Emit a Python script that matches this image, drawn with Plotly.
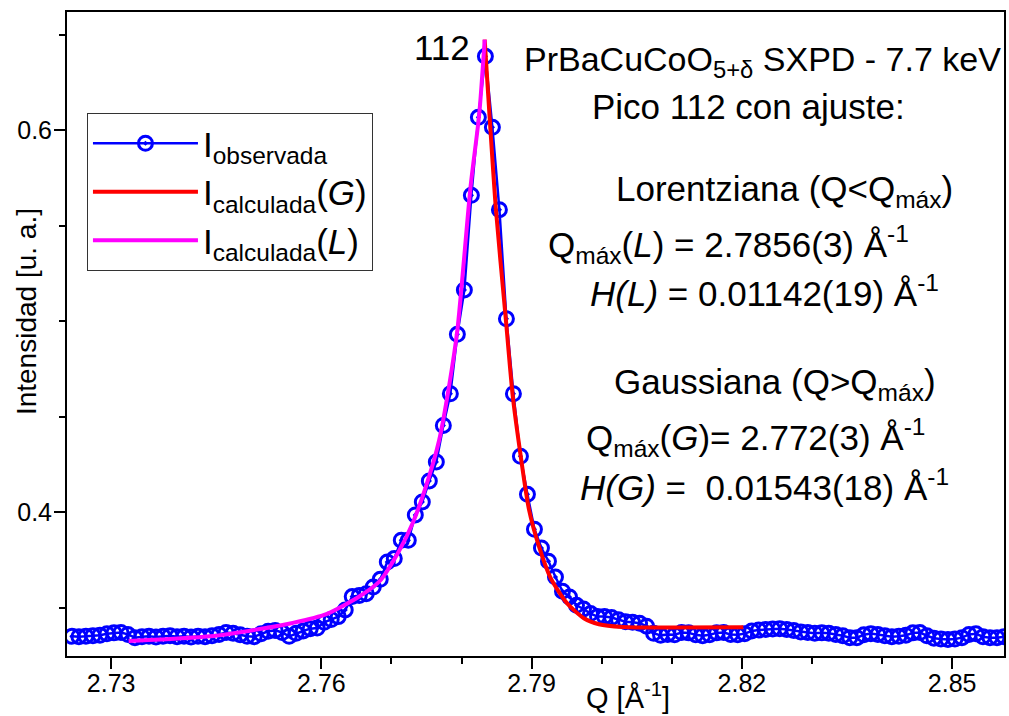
import plotly.graph_objects as go

# ---------------- data ----------------
Q_START = 2.7244
Q_STEP = 0.001
I_obs = [
    0.3352, 0.3350, 0.3352, 0.3355, 0.3358, 0.3365, 0.3370, 0.3372, 0.3362, 0.3345,
    0.3350, 0.3352, 0.3348, 0.3352, 0.3355, 0.3350, 0.3352, 0.3348, 0.3352, 0.3350,
    0.3355, 0.3362, 0.3372, 0.3368, 0.3360, 0.3352, 0.3350, 0.3365, 0.3378, 0.3383,
    0.3372, 0.3352, 0.3368, 0.3380, 0.3392, 0.3395, 0.3425, 0.3440, 0.3455, 0.3490,
    0.3560, 0.3565, 0.3575, 0.3610, 0.3650, 0.3741, 0.3759, 0.3855, 0.3854, 0.3987,
    0.4055, 0.4165, 0.4264, 0.4455, 0.4621, 0.4932, 0.5164, 0.5659, 0.6067, 0.6386,
    0.6015, 0.5584, 0.5013, 0.4621, 0.4294, 0.4095, 0.3912, 0.3814, 0.3745, 0.3662,
    0.3588, 0.3558, 0.3514, 0.3495, 0.3471, 0.3455, 0.3455, 0.3450, 0.3438, 0.3428,
    0.3425, 0.3420, 0.3405, 0.3368, 0.3357, 0.3362, 0.3360, 0.3372, 0.3370, 0.3360,
    0.3355, 0.3360, 0.3370, 0.3372, 0.3362, 0.3360, 0.3366, 0.3380, 0.3385, 0.3388,
    0.3390, 0.3392, 0.3388, 0.3382, 0.3375, 0.3372, 0.3368, 0.3370, 0.3368, 0.3362,
    0.3355, 0.3345, 0.3345, 0.3360, 0.3366, 0.3362, 0.3355, 0.3350, 0.3352, 0.3358,
    0.3370, 0.3372, 0.3355, 0.3342, 0.3338, 0.3335, 0.3338, 0.3345, 0.3362, 0.3365,
    0.3350, 0.3345, 0.3345, 0.3350,
]
Q_obs = [round(Q_START + Q_STEP * i, 4) for i in range(len(I_obs))]

# Lorentzian fit curve (Q < Qmax)
Q_L = [2.7325, 2.7370, 2.7441, 2.7512, 2.7559, 2.7607, 2.7654, 2.7683,
       2.7711, 2.7730, 2.7749, 2.7768, 2.7782, 2.7794, 2.7813, 2.7825, 2.7833]
I_L = [0.3327, 0.3335, 0.3352, 0.3390, 0.3422, 0.3468, 0.3560, 0.3640,
       0.3800, 0.3942, 0.4134, 0.4378, 0.4657, 0.4954, 0.5710, 0.6076, 0.6474]

# Gaussian fit curve (Q > Qmax)
Q_G = [2.7833, 2.7849, 2.7863, 2.7873, 2.7884, 2.7896, 2.7911, 2.7927,
       2.7950, 2.7975, 2.7996, 2.8029, 2.8100, 2.8202]
I_G = [0.6474, 0.5587, 0.5017, 0.4610, 0.4305, 0.4019, 0.3816, 0.3658,
       0.3527, 0.3445, 0.3415, 0.3401, 0.3398, 0.3400]

X_RANGE = [2.7237, 2.8574]
Y_RANGE = [0.3249, 0.6618]

FONT = "Liberation Sans, Arial, sans-serif"

# ---------------- layout helpers (pixel -> paper) ----------------
W, H = 1009, 716
ML, MR, MT, MB = 67, 3, 12, 60
PW, PH = W - ML - MR, H - MT - MB


def px(x):
    return (x - ML) / PW


def py(y):
    return (H - MB - y) / PH


fig = go.Figure()
fig.add_trace(go.Scatter(
    x=Q_obs, y=I_obs, mode="lines+markers", name="I<sub>observada</sub>",
    line=dict(color="#0000FF", width=2.5),
    marker=dict(symbol="circle-open-dot", size=14, color="#0000FF",
                line=dict(width=3, color="#0000FF")),
))
fig.add_trace(go.Scatter(
    x=Q_G, y=I_G, mode="lines", name="I<sub>calculada</sub>(<i>G</i>)",
    line=dict(color="#FF0000", width=4, shape="spline", smoothing=0.7),
))
fig.add_trace(go.Scatter(
    x=Q_L, y=I_L, mode="lines", name="I<sub>calculada</sub>(<i>L</i>)",
    line=dict(color="#FF00FF", width=4, shape="spline", smoothing=0.7),
))

axis_common = dict(
    showgrid=False, zeroline=False, showline=True, linecolor="black",
    linewidth=2, mirror=True, ticks="outside", ticklen=11, tickwidth=2,
    tickcolor="black", tickfont=dict(family=FONT, size=25, color="black"),
)
fig.update_xaxes(range=X_RANGE, tick0=2.73, dtick=0.03, ticklabelstandoff=-7,
                 minor=dict(tick0=2.73, dtick=0.01, ticks="outside", ticklen=6,
                            tickwidth=2, tickcolor="black"),
                 **axis_common)
fig.update_yaxes(range=Y_RANGE, tick0=0, dtick=0.2, ticklabelstandoff=-3,
                 minor=dict(tick0=0, dtick=0.05, ticks="outside", ticklen=6,
                            tickwidth=2, tickcolor="black"),
                 **axis_common)

texts = [
    ("PrBaCuCoO<sub>5+δ</sub> SXPD - 7.7 keV", 1005, 62, "right", 34),
    ("Pico 112 con ajuste:", 750, 106, "center", 35),
    ("Lorentziana (Q&lt;Q<sub>máx</sub>)", 786, 191, "center", 35),
    ("Q<sub>máx</sub>(<i>L</i>) = 2.7856(3) Å<sup>-1</sup>", 730, 244, "center", 35),
    ("<i>H(L)</i> = 0.01142(19) Å<sup>-1</sup>", 766, 291, "center", 35),
    ("Gaussiana (Q&gt;Q<sub>máx</sub>)", 777, 384, "center", 35),
    ("Q<sub>máx</sub>(<i>G</i>)= 2.772(3) Å<sup>-1</sup>", 757, 437, "center", 35),
    ("<i>H(G)</i> =  0.01543(18) Å<sup>-1</sup>", 766, 485, "center", 35),
    ("112", 443, 47, "center", 35),
]
annotations = []
for t, x, y, anc, fs in texts:
    annotations.append(dict(text=t, x=px(x), y=py(y), xref="paper", yref="paper",
                            xanchor=anc, yanchor="middle", showarrow=False,
                            font=dict(family=FONT, size=fs, color="black")))
# axis titles
annotations.append(dict(text="Q [Å<sup>-1</sup>]", x=px(629), y=py(716),
                        xref="paper", yref="paper", xanchor="center",
                        yanchor="bottom", showarrow=False,
                        font=dict(family=FONT, size=29, color="black")))
annotations.append(dict(text="Intensidad [u. a.]", x=px(26), y=py(312),
                        xref="paper", yref="paper", xanchor="center",
                        yanchor="middle", textangle=-90, showarrow=False,
                        font=dict(family=FONT, size=28, color="black")))

fig.update_layout(
    width=W, height=H,
    margin=dict(l=ML, r=MR, t=MT, b=MB, pad=0),
    paper_bgcolor="white", plot_bgcolor="white",
    font=dict(family=FONT, color="black"),
    annotations=annotations,
    showlegend=True,
    legend=dict(x=px(87), y=py(113), xanchor="left", yanchor="top",
                bgcolor="white", bordercolor="#333333", borderwidth=1,
                font=dict(family=FONT, size=35, color="black"),
                itemwidth=105, tracegroupgap=0),
)

fig.write_html("out.html", config={"displayModeBar": False},
               post_script="document.body.style.margin='0';"
                           "document.body.style.overflow='hidden';")
